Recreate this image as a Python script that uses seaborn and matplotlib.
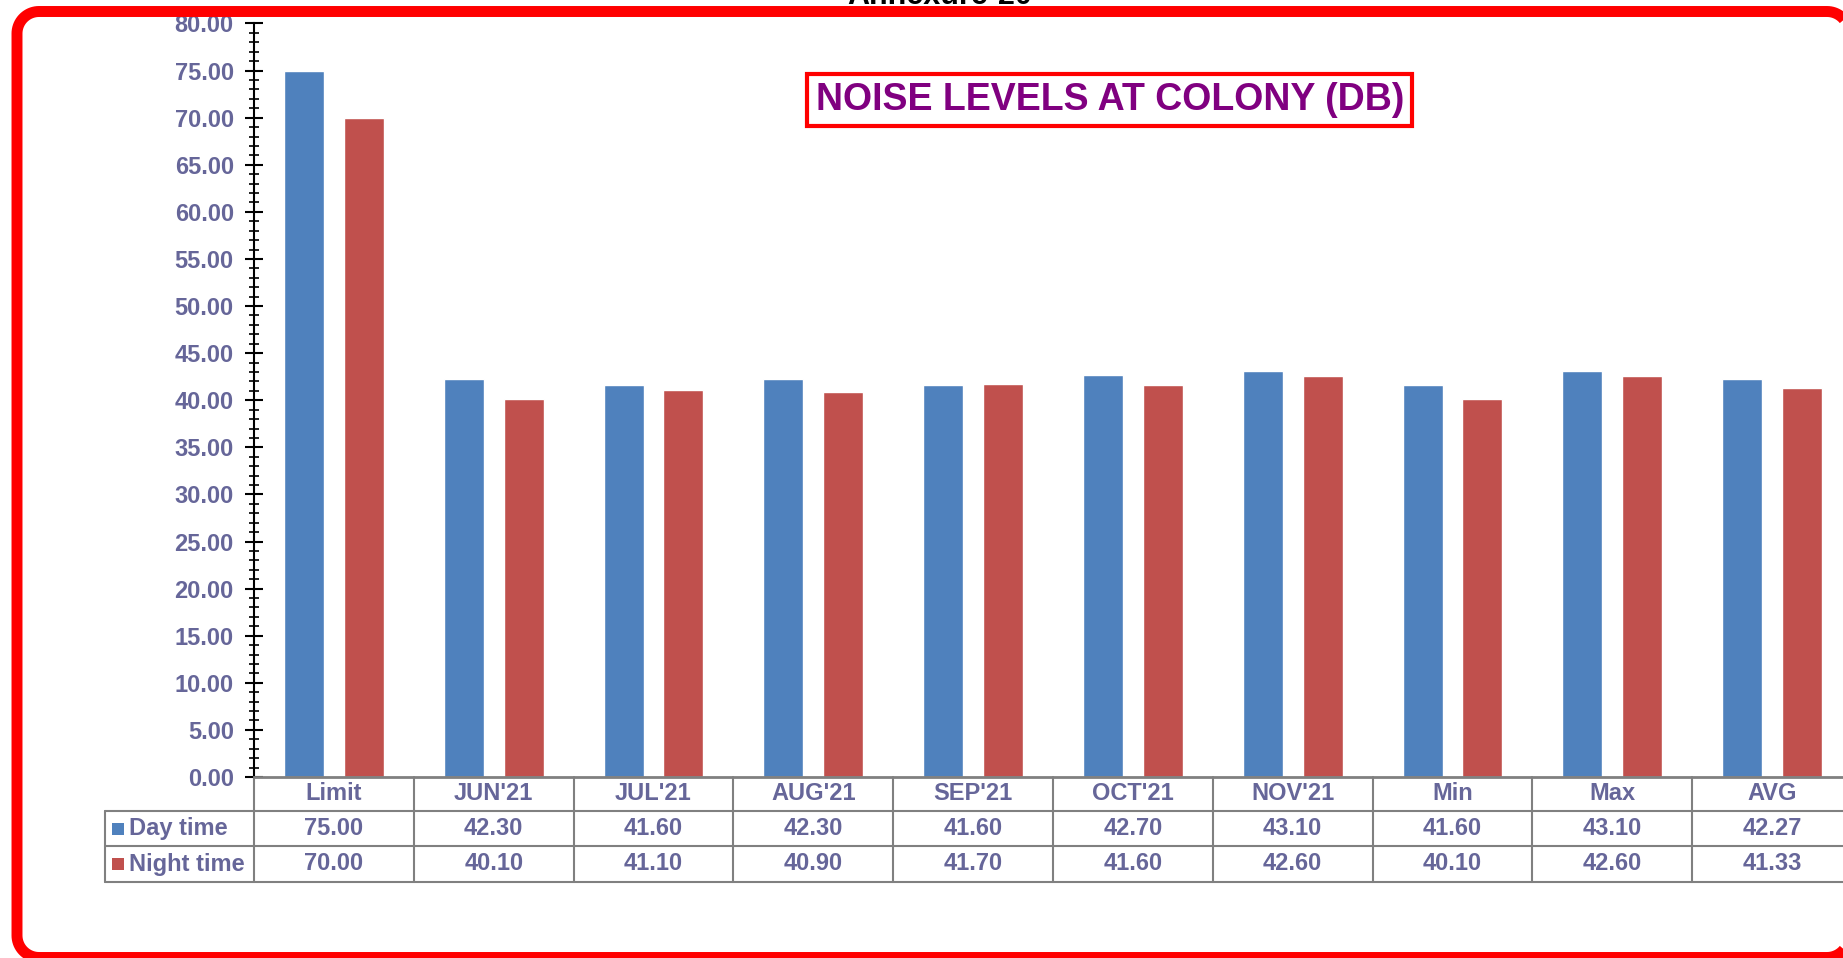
import numpy as np
import pandas as pd
import matplotlib
matplotlib.use("Agg")
import matplotlib.pyplot as plt
import matplotlib.transforms as mtransforms
from matplotlib.patches import Rectangle
from matplotlib.ticker import MultipleLocator, FormatStrFormatter
import seaborn as sns

# data
periods = ["Limit", "JUN'21", "JUL'21", "AUG'21", "SEP'21", "OCT'21", "NOV'21", "Min", "Max", "AVG"]
day_time = [75.00, 42.30, 41.60, 42.30, 41.60, 42.70, 43.10, 41.60, 43.10, 42.27]
night_time = [70.00, 40.10, 41.10, 40.90, 41.70, 41.60, 42.60, 40.10, 42.60, 41.33]
series_names = ["Day time", "Night time"]

BLUE = "#4F81BD"
RED = "#C0504D"
TXT = "#666699"
GRID = "#808080"

df = pd.DataFrame({
    "Period": periods * 2,
    "Noise": day_time + night_time,
    "Shift": [series_names[0]] * len(periods) + [series_names[1]] * len(periods),
})

sns.set_style("white")
plt.rcParams["font.family"] = ["Liberation Sans", "DejaVu Sans"]
plt.rcParams["font.weight"] = "bold"

W, H = 1843, 958
fig = plt.figure(figsize=(W / 100, H / 100), dpi=100)

def fx(px):
    return px / W

def fy(py):
    return 1 - py / H

# axes placement (the last category runs past the right edge like the original)
ax_left, ax_right, ax_top, ax_bottom = 254, 1852, 23.5, 777
ax = fig.add_axes([fx(ax_left), fy(ax_bottom), fx(ax_right - ax_left), (ax_bottom - ax_top) / H])

sns.barplot(data=df, x="Period", y="Noise", hue="Shift", order=periods,
            hue_order=series_names, palette=[BLUE, RED], saturation=1,
            width=0.75, gap=1 / 3, legend=False, ax=ax)

ax.set_xlim(-0.5, len(periods) - 0.5)
ax.set_ylim(0, 80)
ax.yaxis.set_major_locator(MultipleLocator(5))
ax.yaxis.set_minor_locator(MultipleLocator(1))
ax.yaxis.set_major_formatter(FormatStrFormatter("%.2f"))
ax.tick_params(axis="y", which="major", left=True, direction="inout", length=13, width=1.5,
               color="black", labelsize=17, labelcolor=TXT, pad=8)
ax.tick_params(axis="y", which="minor", left=True, direction="inout", length=7, width=1.2,
               color="black")
for lab in ax.get_yticklabels():
    lab.set_fontweight("bold")
ax.set_xticks([])
ax.set_xlabel("")
ax.set_ylabel("")
for s in ["top", "right"]:
    ax.spines[s].set_visible(False)
ax.spines["left"].set_color("black")
ax.spines["left"].set_linewidth(1.5)
ax.spines["bottom"].set_color(GRID)
ax.spines["bottom"].set_linewidth(2)

# data table under the axis
tr = mtransforms.blended_transform_factory(ax.transData, fig.transFigure)
row_edges = [777, 811, 846, 882]
row_mid = [(row_edges[i] + row_edges[i + 1]) / 2 for i in range(3)]
leg_left = 105

for i in range(len(periods) + 1):
    ax.plot([i - 0.5, i - 0.5], [fy(row_edges[0]), fy(row_edges[-1])], transform=tr,
            color=GRID, lw=1.5, clip_on=False)
for e in row_edges[1:]:
    fig.add_artist(plt.Line2D([fx(leg_left), 1.01], [fy(e), fy(e)], color=GRID, lw=1.5))
fig.add_artist(plt.Line2D([fx(leg_left), fx(leg_left)], [fy(row_edges[1]), fy(row_edges[-1])],
                          color=GRID, lw=1.5))

for i, p in enumerate(periods):
    ax.text(i, fy(row_mid[0]), p, transform=tr, ha="center", va="center",
            fontsize=17, color=TXT, fontweight="bold")
    ax.text(i, fy(row_mid[1]), f"{day_time[i]:.2f}", transform=tr, ha="center", va="center",
            fontsize=17, color=TXT, fontweight="bold")
    ax.text(i, fy(row_mid[2]), f"{night_time[i]:.2f}", transform=tr, ha="center", va="center",
            fontsize=17, color=TXT, fontweight="bold")

for name, col, ym in zip(series_names, [BLUE, RED], row_mid[1:]):
    fig.add_artist(Rectangle((fx(112), fy(ym + 6)), fx(12), 12 / H, transform=fig.transFigure,
                             facecolor=col, edgecolor="none"))
    fig.text(fx(129), fy(ym), name, ha="left", va="center", fontsize=17,
             color=TXT, fontweight="bold")

# chart title in a red box
fig.add_artist(Rectangle((fx(807), fy(126)), fx(1412 - 807), (126 - 74) / H,
                         transform=fig.transFigure, facecolor="white", edgecolor="red", lw=3))
fig.text(fx(1110), fy(100), "NOISE LEVELS AT COLONY (DB)", ha="center", va="center",
         fontsize=27, color="#800080", fontweight="bold")

# page heading, mostly cut off at the top
fig.text(fx(940), fy(4), "Annexure-20", ha="center", va="baseline", fontsize=22,
         color="black", fontweight="bold")

# rounded red frame; its right edge sits just past the picture, so leave it open there
x0, x1, y0, y1, r = 17, 1849, 11.5, 957.5, 22
def arc(cx, cy, a0, a1):
    t = np.radians(np.linspace(a0, a1, 20))
    return list(cx + r * np.cos(t)), list(cy + r * np.sin(t))
xs, ys = [], []
for cx, cy, a0, a1 in [(x1 - r, y0 + r, 0, -90), (x0 + r, y0 + r, -90, -180),
                       (x0 + r, y1 - r, 180, 90), (x1 - r, y1 - r, 90, 0)]:
    ax_, ay_ = arc(cx, cy, a0, a1)
    xs += ax_
    ys += ay_
fig.add_artist(plt.Line2D([fx(v) for v in xs], [fy(v) for v in ys], color="red", lw=7.9,
                          solid_capstyle="butt", solid_joinstyle="round"))

fig.savefig("out.png", dpi=100)
